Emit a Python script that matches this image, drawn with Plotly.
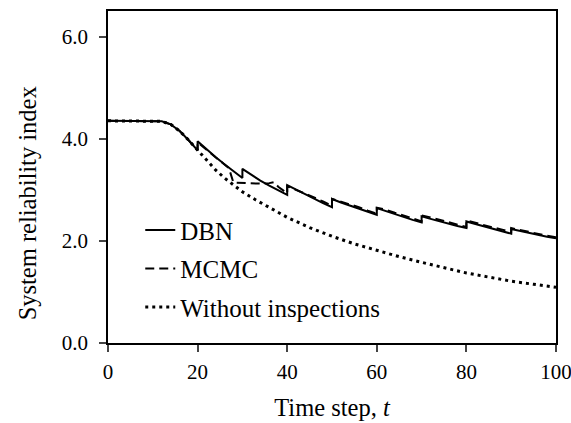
import plotly.graph_objects as go

# Without inspections
t_noinsp = [0, 5, 10, 12, 14, 16, 18, 20, 22, 24, 26, 28, 30, 33, 36, 40, 45, 50,
            55, 60, 65, 70, 75, 80, 85, 90, 95, 100]
y_noinsp = [4.35, 4.35, 4.35, 4.34, 4.28, 4.15, 3.97, 3.77, 3.57, 3.39, 3.23, 3.09,
            2.96, 2.80, 2.65, 2.46, 2.26, 2.09, 1.94, 1.81, 1.69, 1.58, 1.47, 1.37,
            1.29, 1.21, 1.15, 1.09]

# DBN (jumps at inspection times appear as repeated t)
t_dbn = [0, 5, 10, 12, 14, 16, 18, 20, 20, 22, 24, 26, 28, 30, 30, 32, 34, 36, 38, 40,
         40, 42, 44, 46, 48, 50, 50, 52, 54, 56, 58, 60, 60, 62, 64, 66, 68, 70,
         70, 72, 74, 76, 78, 80, 80, 82, 84, 86, 88, 90, 90, 92, 94, 96, 98, 100]
y_dbn = [4.35, 4.35, 4.35, 4.34, 4.28, 4.15, 3.97, 3.77, 3.95, 3.79, 3.64, 3.50, 3.36,
         3.23, 3.41, 3.29, 3.18, 3.08, 2.99, 2.90, 3.09, 3.00, 2.91, 2.83, 2.74, 2.66,
         2.82, 2.75, 2.69, 2.63, 2.57, 2.51, 2.64, 2.58, 2.52, 2.47, 2.41, 2.36,
         2.48, 2.43, 2.38, 2.34, 2.29, 2.25, 2.38, 2.33, 2.28, 2.23, 2.19, 2.14,
         2.23, 2.19, 2.16, 2.12, 2.08, 2.05]

# MCMC
t_mcmc = [0, 5, 10, 12, 14, 16, 18, 20, 20, 22, 24, 26, 27, 28, 30, 32, 34, 36, 37, 38, 40,
          40, 42, 44, 46, 48, 50, 50, 52, 54, 56, 58, 60, 60, 62, 64, 66, 68, 70,
          70, 72, 74, 76, 78, 80, 80, 82, 84, 86, 88, 90, 90, 92, 94, 96, 98, 100]
y_mcmc = [4.35, 4.35, 4.35, 4.34, 4.28, 4.15, 3.97, 3.77, 3.93, 3.78, 3.63, 3.49, 3.42,
          3.14, 3.13, 3.13, 3.12, 3.13, 3.15, 3.06, 2.93, 3.07, 3.00, 2.93, 2.85, 2.77,
          2.69, 2.82, 2.77, 2.71, 2.66, 2.59, 2.53, 2.65, 2.61, 2.55, 2.50, 2.44, 2.38,
          2.50, 2.46, 2.41, 2.37, 2.31, 2.27, 2.40, 2.35, 2.31, 2.26, 2.22, 2.17,
          2.25, 2.21, 2.18, 2.14, 2.10, 2.07]

x_ticks = [0, 20, 40, 60, 80, 100]
y_ticks = [0, 2, 4, 6]
y_tick_labels = ["0.0", "2.0", "4.0", "6.0"]

FONT = "Liberation Serif"

fig = go.Figure()
fig.add_trace(go.Scatter(x=t_dbn, y=y_dbn, mode="lines", name="DBN",
                         legendgroup="a",
                         line=dict(color="black", width=2, dash="solid")))
fig.add_trace(go.Scatter(x=t_mcmc, y=y_mcmc, mode="lines", name="MCMC",
                         legendgroup="b",
                         line=dict(color="black", width=2, dash="9px,5px")))
fig.add_trace(go.Scatter(x=t_noinsp, y=y_noinsp, mode="lines", name="Without inspections",
                         legendgroup="c",
                         line=dict(color="black", width=3, dash="3px,4px")))

fig.update_layout(
    width=571, height=423,
    margin=dict(l=108, r=15, t=11, b=80, autoexpand=False),
    paper_bgcolor="white", plot_bgcolor="white",
    font=dict(family=FONT, size=21, color="black"),
    showlegend=True,
    legend=dict(x=0.072, y=0.409, xanchor="left", yanchor="top",
                bgcolor="rgba(0,0,0,0)", font=dict(family=FONT, size=25),
                tracegroupgap=3),
    xaxis=dict(range=[0, 100], tickvals=x_ticks, ticks="outside", ticklen=7,
               tickwidth=1.5, showline=True, linewidth=1.5, linecolor="black",
               mirror=True, showgrid=False, zeroline=False, automargin=False,
               ticklabelstandoff=2, ticklabeloverflow="allow",
               title=dict(text="Time step, <i>t</i>", font=dict(size=24.5), standoff=16),
               tickfont=dict(size=21)),
    yaxis=dict(range=[0, 6.5], tickvals=y_ticks, ticktext=y_tick_labels,
               ticks="outside", ticklen=7, tickwidth=1.5, showline=True,
               linewidth=1.5, linecolor="black", mirror=True, showgrid=False,
               zeroline=False, automargin=False, ticklabelstandoff=7,
               ticklabeloverflow="allow",
               tickfont=dict(size=21)),
    annotations=[dict(text="System reliability index", textangle=-90,
                      xref="paper", yref="paper", x=-0.179, y=0.42,
                      xanchor="center", yanchor="middle", showarrow=False,
                      font=dict(family=FONT, size=24.5, color="black"))],
)

fig.write_html("out.html", post_script="document.body.style.margin='0';",
               config={"displayModeBar": False})
